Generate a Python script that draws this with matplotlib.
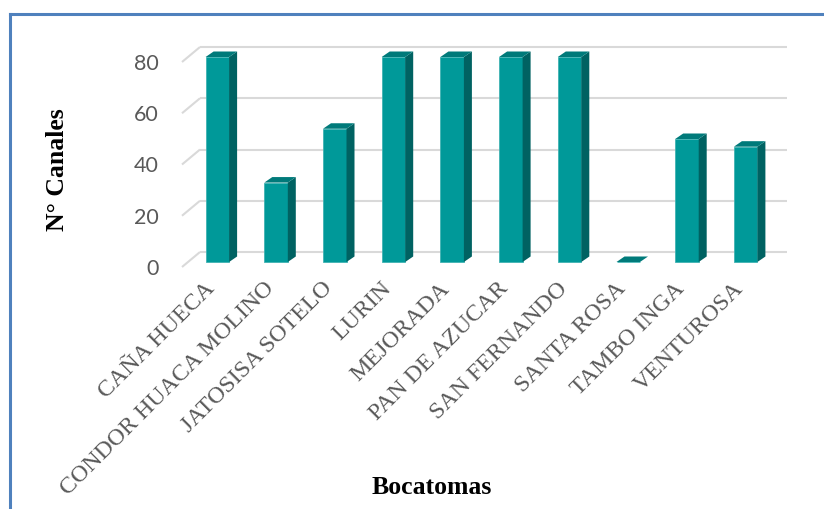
import matplotlib
matplotlib.use("Agg")
import matplotlib.pyplot as plt
import matplotlib.transforms as mtransforms
from matplotlib.patches import Polygon
from matplotlib.lines import Line2D

# Data
bocatomas = ["CAÑA HUECA", "CONDOR HUACA MOLINO", "JATOSISA SOTELO", "LURIN",
             "MEJORADA", "PAN DE AZUCAR", "SAN FERNANDO", "SANTA ROSA",
             "TAMBO INGA", "VENTUROSA"]
canales = [80, 31, 52, 80, 80, 80, 80, 0, 48, 45]
y_ticks = [0, 20, 40, 60, 80]

# Colours / 3D look
front_col = "#009999"
side_col = "#006262"
top_col = "#007A7A"
grid_col = "#D9D9D9"
text_gray = "#595959"

W, H = 824, 509
fig = plt.figure(figsize=(W / 100, H / 100), dpi=100)

# axes = front plane of the floor (pixels measured on the reference)
left, right, bottom, top = 182, 769, 267, 62
ax = fig.add_axes([left / W, (H - bottom) / H, (right - left) / W, (bottom - top) / H])
ax.set_xlim(-0.5, len(bocatomas) - 0.5)
ax.set_ylim(0, 80)

px_x = (right - left) / len(bocatomas)   # pixels per category
px_y = (bottom - top) / 80.0              # pixels per unit

# back wall offset of the 3D floor
wall_dx, wall_dy = 18 / px_x, 15 / px_y
for v in y_ticks:
    ax.plot([-0.5, -0.5 + wall_dx], [v, v + wall_dy], color=grid_col, lw=1.5,
            clip_on=False, zorder=1, solid_capstyle="butt")
    ax.plot([-0.5 + wall_dx, len(bocatomas) - 0.5 + wall_dx], [v + wall_dy, v + wall_dy],
            color=grid_col, lw=1.5, clip_on=False, zorder=1, solid_capstyle="butt")

# bars placed at mid depth
shift_x, shift_y = 6 / px_x, 5 / px_y
bar_w = 23.5 / px_x
ddx, ddy = 8 / px_x, 5.5 / px_y
xs = [i + shift_x for i in range(len(bocatomas))]

bars = ax.bar(xs, canales, width=bar_w, bottom=shift_y, color=front_col,
              edgecolor="#40B3B3", linewidth=0.6, zorder=3, clip_on=False)
for x, v in zip(xs, canales):
    x0, x1 = x - bar_w / 2, x + bar_w / 2
    y0, y1 = shift_y, shift_y + v
    if v > 0:
        ax.add_patch(Polygon([(x1, y0), (x1 + ddx, y0 + ddy), (x1 + ddx, y1 + ddy), (x1, y1)],
                             closed=True, facecolor=side_col, edgecolor="none",
                             zorder=3, clip_on=False))
    ax.add_patch(Polygon([(x0, y1), (x1, y1), (x1 + ddx, y1 + ddy), (x0 + ddx, y1 + ddy)],
                         closed=True, facecolor=top_col, edgecolor="none",
                         zorder=3, clip_on=False))

for s in ax.spines.values():
    s.set_visible(False)
ax.set_yticks(y_ticks)
ax.set_yticklabels([str(t) for t in y_ticks], fontsize=15.5, color=text_gray,
                   family=["Lato", "DejaVu Sans"])
ax.tick_params(axis="y", length=0, pad=17)

ax.set_xticks(xs)
ax.set_xticklabels(bocatomas, rotation=45, ha="right", rotation_mode="anchor",
                   fontsize=17.2, color=text_gray, family=["Liberation Serif"])
ax.tick_params(axis="x", length=0, pad=8)
offset = mtransforms.ScaledTranslation(-13 / 100, 0, fig.dpi_scale_trans)
for lab in ax.get_xticklabels():
    lab.set_transform(lab.get_transform() + offset)
ax.patch.set_alpha(0)

fig.text(431.5 / W, 1 - 487 / H, "Bocatomas", ha="center", va="center",
         fontsize=18.5, fontweight="bold", family=["Liberation Serif"], color="black")
fig.text(58 / W, 1 - 170 / H, "N° Canales", ha="center", va="center", rotation=90,
         fontsize=18.5, fontweight="bold", family=["Liberation Serif"], color="black")

# blue frame (top and left edges visible in the reference)
fig.add_artist(Line2D([10 / W, 1], [1 - 14 / H, 1 - 14 / H], color="#4F81BD", lw=2.2,
                      transform=fig.transFigure))
fig.add_artist(Line2D([10 / W, 10 / W], [0, 1 - 14 / H], color="#4F81BD", lw=2.2,
                      transform=fig.transFigure))

fig.savefig("out.png", dpi=100)
